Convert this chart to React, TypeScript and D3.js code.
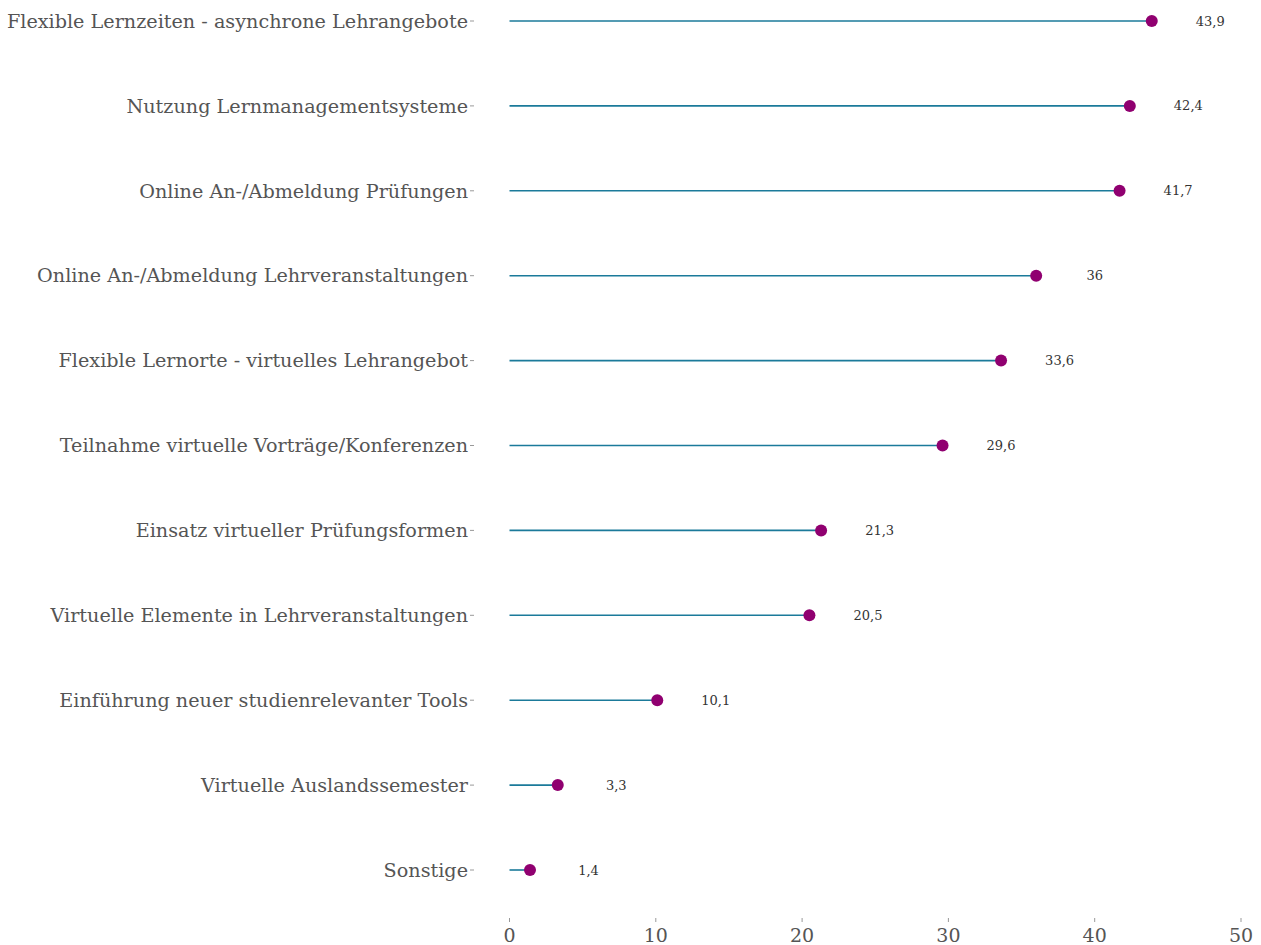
import React from "react";
import * as d3 from "d3";

const categories = [
  "Flexible Lernzeiten - asynchrone Lehrangebote",
  "Nutzung Lernmanagementsysteme",
  "Online An-/Abmeldung Prüfungen",
  "Online An-/Abmeldung Lehrveranstaltungen",
  "Flexible Lernorte - virtuelles Lehrangebot",
  "Teilnahme virtuelle Vorträge/Konferenzen",
  "Einsatz virtueller Prüfungsformen",
  "Virtuelle Elemente in Lehrveranstaltungen",
  "Einführung neuer studienrelevanter Tools",
  "Virtuelle Auslandssemester",
  "Sonstige",
];
const values = [43.9, 42.4, 41.7, 36, 33.6, 29.6, 21.3, 20.5, 10.1, 3.3, 1.4];
const xTicks = [0, 10, 20, 30, 40, 50];

const W = 1261;
const H = 945;
const FONT = "Georgia, 'DejaVu Serif', serif";

export default function App() {
  const x = d3.scaleLinear().domain([0, 50]).range([509.5, 1241]);
  const y = d3.scalePoint<string>().domain(categories).range([21, 870]);
  const fmt = (v: number) => String(v).replace(".", ",");
  return (
    <svg
      width={W}
      height={H}
      style={{ position: "absolute", left: 0, top: 0, background: "#fff" }}
      fontFamily={FONT}
    >
      {categories.map((c, i) => {
        const cy = y(c)!;
        const v = values[i];
        return (
          <g key={c}>
            <text
              x={468}
              y={cy}
              dy="0.35em"
              textAnchor="end"
              fontSize={19.2}
              fill="#555"
            >
              {c}
            </text>
            <line x1={470} x2={474} y1={cy} y2={cy} stroke="#999" strokeWidth={1} />
            <line x1={x(0)} x2={x(v)} y1={cy} y2={cy} stroke="#1b7a9a" strokeWidth={1.6} />
            <circle cx={x(v)} cy={cy} r={6} fill="#900070" />
            <text
              x={x(v + 4)}
              y={cy}
              dy="0.35em"
              textAnchor="middle"
              fontSize={13}
              fill="#333"
            >
              {fmt(v)}
            </text>
          </g>
        );
      })}
      {xTicks.map((t) => (
        <g key={t}>
          <line x1={x(t)} x2={x(t)} y1={918} y2={922} stroke="#999" strokeWidth={1} />
          <text x={x(t)} y={942} textAnchor="middle" fontSize={19} fill="#555">
            {t}
          </text>
        </g>
      ))}
    </svg>
  );
}
